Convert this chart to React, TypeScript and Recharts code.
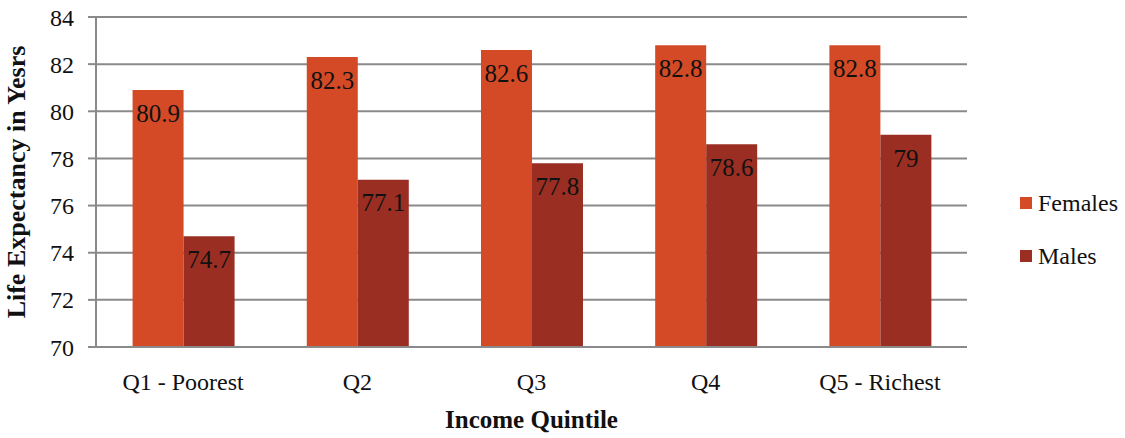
import { BarChart, Bar, XAxis, YAxis, CartesianGrid, LabelList } from "recharts";

const quintiles = ["Q1 - Poorest", "Q2", "Q3", "Q4", "Q5 - Richest"];
const females = [80.9, 82.3, 82.6, 82.8, 82.8];
const males = [74.7, 77.1, 77.8, 78.6, 79];
const yTicks = [70, 72, 74, 76, 78, 80, 82, 84];

const FEMALE = "#D44A26";
const MALE = "#9A2E22";
const FONT = "'Liberation Serif', 'DejaVu Serif', serif";

const data = quintiles.map((q, i) => ({ q, females: females[i], males: males[i] }));

export default function App() {
  return (
    <div style={{ position: "fixed", left: 0, top: 0, width: 1125, height: 438, background: "#fff", fontFamily: FONT }}>
      <BarChart
        width={1125}
        height={438}
        data={data}
        margin={{ top: 17, right: 158, bottom: 0, left: 0 }}
        barCategoryGap="21%"
        barGap={0}
      >
        <CartesianGrid vertical={false} stroke="#8a8a8a" strokeWidth={2} />
        <XAxis
          dataKey="q"
          height={91}
          tickLine={false}
          axisLine={{ stroke: "#8a8a8a", strokeWidth: 2 }}
          tick={{ fill: "#111", fontSize: 24, fontFamily: FONT }}
          tickMargin={20}
          label={{ value: "Income Quintile", position: "insideBottom", offset: 10, fill: "#111", fontSize: 25, fontWeight: 700, fontFamily: FONT }}
        />
        <YAxis
          width={96}
          domain={[70, 84]}
          ticks={yTicks}
          interval={0}
          tickSize={8}
          tickLine={{ stroke: "#8a8a8a", strokeWidth: 2 }}
          axisLine={{ stroke: "#8a8a8a", strokeWidth: 2 }}
          tick={{ fill: "#111", fontSize: 24, fontFamily: FONT }}
          tickMargin={14}
          label={{ value: "Life Expectancy in Yesrs", angle: -90, position: "insideLeft", offset: 16, style: { textAnchor: "middle" }, fill: "#111", fontSize: 26, fontWeight: 700, fontFamily: FONT }}
        />
        <Bar dataKey="females" fill={FEMALE} isAnimationActive={false}>
          <LabelList dataKey="females" position="insideTop" offset={14} fill="#111" fontSize={25} fontFamily={FONT} />
        </Bar>
        <Bar dataKey="males" fill={MALE} isAnimationActive={false}>
          <LabelList dataKey="males" position="insideTop" offset={14} fill="#111" fontSize={25} fontFamily={FONT} />
        </Bar>
      </BarChart>
      <div style={{ position: "absolute", left: 1020, top: 190, fontSize: 24, color: "#111", lineHeight: "26px" }}>
        <div style={{ display: "flex", alignItems: "center", marginBottom: 27 }}>
          <span style={{ width: 12, height: 12, background: FEMALE, marginRight: 6, display: "inline-block" }} />
          Females
        </div>
        <div style={{ display: "flex", alignItems: "center" }}>
          <span style={{ width: 12, height: 12, background: MALE, marginRight: 6, display: "inline-block" }} />
          Males
        </div>
      </div>
    </div>
  );
}
